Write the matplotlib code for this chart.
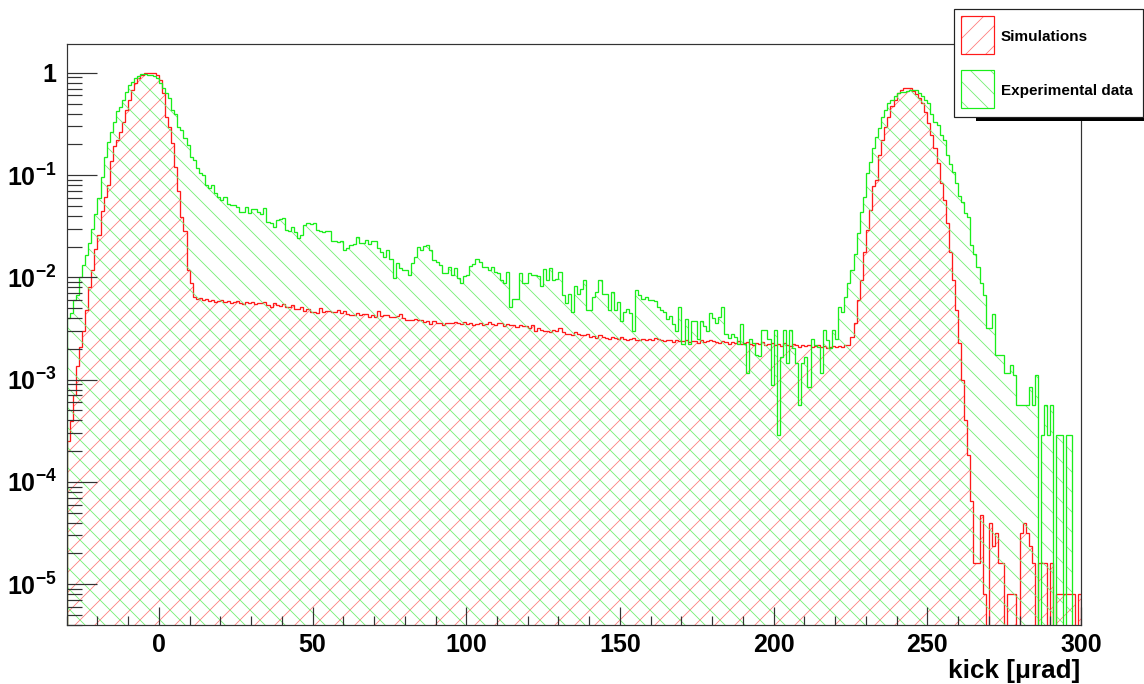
import numpy as np
import matplotlib
matplotlib.use("Agg")
import matplotlib.pyplot as plt
from matplotlib.patches import Rectangle
from matplotlib.ticker import FixedLocator, NullFormatter

DPI = 120         # chosen so the hatch spacing matches the ROOT pattern
W, H = 1144, 684


def pt(px):
    """pixels -> points at the chosen dpi"""
    return px * 72.0 / DPI


plt.rcParams['font.family'] = ['Liberation Sans', 'DejaVu Sans']
plt.rcParams['font.weight'] = 'bold'
plt.rcParams['mathtext.fontset'] = 'custom'
plt.rcParams['mathtext.rm'] = 'Liberation Sans:bold'
plt.rcParams['mathtext.it'] = 'Liberation Sans:bold'
plt.rcParams['mathtext.bf'] = 'Liberation Sans:bold'
plt.rcParams['hatch.linewidth'] = pt(0.8)

# histogram binning: 1 urad bins from -30 to 300
x_lo, x_hi = -30, 300
edges = np.arange(x_lo, x_hi + 1)

# bin contents, as log10 values (None = empty bin)
sim_log10 = [
    # -30
    -3.60, -3.40, -3.15, -2.87, -2.68, -2.52, -2.32, -2.09, -1.93, -1.72,
    # -20
    -1.59, -1.35, -1.21, -1.10, -0.86, -0.72, -0.66, -0.58, -0.48, -0.36,
    # -10
    -0.27, -0.17, -0.10, -0.055, -0.02, -0.006, 0.0, 0.0, -0.005, -0.02,
    # 0
    -0.07, -0.20, -0.43, -0.53, -0.69, -0.92, -1.16, -1.41, -1.55, -1.93,
    # 10
    -2.06, -2.19, -2.21, -2.20, -2.22, -2.21, -2.23, -2.22, -2.24, -2.23,
    # 20
    -2.22, -2.24, -2.23, -2.25, -2.24, -2.23, -2.25, -2.26, -2.24, -2.25,
    # 30
    -2.24, -2.26, -2.25, -2.25, -2.24, -2.27, -2.29, -2.25, -2.27, -2.28,
    # 40
    -2.26, -2.29, -2.29, -2.27, -2.31, -2.31, -2.29, -2.33, -2.31, -2.34,
    # 50
    -2.34, -2.35, -2.30, -2.34, -2.33, -2.33, -2.34, -2.34, -2.32, -2.35,
    # 60
    -2.33, -2.36, -2.37, -2.37, -2.35, -2.37, -2.36, -2.36, -2.39, -2.37,
    # 70
    -2.39, -2.33, -2.38, -2.37, -2.37, -2.39, -2.39, -2.38, -2.36, -2.40,
    # 80
    -2.42, -2.42, -2.42, -2.41, -2.42, -2.42, -2.44, -2.43, -2.46, -2.43,
    # 90
    -2.45, -2.45, -2.47, -2.45, -2.45, -2.45, -2.44, -2.45, -2.46, -2.44,
    # 100
    -2.46, -2.45, -2.47, -2.46, -2.45, -2.47, -2.46, -2.44, -2.46, -2.47,
    # 110
    -2.45, -2.45, -2.48, -2.46, -2.47, -2.47, -2.49, -2.47, -2.48, -2.48,
    # 120
    -2.50, -2.47, -2.52, -2.50, -2.51, -2.52, -2.52, -2.53, -2.51, -2.52,
    # 130
    -2.50, -2.53, -2.55, -2.55, -2.56, -2.53, -2.55, -2.56, -2.56, -2.55,
    # 140
    -2.58, -2.57, -2.59, -2.56, -2.58, -2.59, -2.60, -2.58, -2.59, -2.60,
    # 150
    -2.58, -2.60, -2.61, -2.60, -2.59, -2.61, -2.61, -2.60, -2.61, -2.60,
    # 160
    -2.61, -2.59, -2.60, -2.61, -2.62, -2.61, -2.61, -2.63, -2.61, -2.62,
    # 170
    -2.62, -2.61, -2.63, -2.62, -2.62, -2.64, -2.61, -2.63, -2.62, -2.61,
    # 180
    -2.62, -2.63, -2.64, -2.62, -2.63, -2.65, -2.63, -2.64, -2.62, -2.65,
    # 190
    -2.64, -2.63, -2.65, -2.66, -2.64, -2.65, -2.63, -2.66, -2.65, -2.64,
    # 200
    -2.66, -2.65, -2.67, -2.64, -2.66, -2.67, -2.65, -2.66, -2.68, -2.66,
    # 210
    -2.67, -2.66, -2.68, -2.67, -2.66, -2.68, -2.67, -2.69, -2.68, -2.67,
    # 220
    -2.68, -2.67, -2.68, -2.66, -2.66, -2.58, -2.45, -2.22, -2.03, -1.75,
    # 230
    -1.54, -1.34, -1.11, -1.05, -0.80, -0.66, -0.53, -0.43, -0.32, -0.27,
    # 240
    -0.20, -0.17, -0.15, -0.15, -0.15, -0.18, -0.21, -0.25, -0.30, -0.38,
    # 250
    -0.49, -0.61, -0.74, -0.88, -1.08, -1.24, -1.47, -1.75, -2.03, -2.32,
    # 260
    -2.64, -3.00, -3.39, -3.74, -4.19, -4.79, -4.79, -4.32, -5.10, None,
    # 270
    -4.40, -4.63, -4.50, -4.79, -4.79, None, -5.10, -5.10, -5.10, None,
    # 280
    -4.50, -4.40, -4.50, -4.63, -4.79, None, -4.79, -4.79, -4.79, None,
    # 290
    -4.79, None, -5.10, -5.10, -5.10, -5.10, -5.10, -5.10, None, -5.10,
]

data_log10 = [
    # -30
    -2.40, -2.35, -2.22, -2.17, -2.00, -1.88, -1.78, -1.66, -1.53, -1.38,
    # -20
    -1.22, -1.02, -0.82, -0.68, -0.58, -0.48, -0.37, -0.33, -0.27, -0.19,
    # -10
    -0.12, -0.09, -0.05, -0.03, -0.01, -0.01, -0.02, -0.02, -0.03, -0.055,
    # 0
    -0.10, -0.15, -0.20, -0.25, -0.36, -0.40, -0.53, -0.56, -0.64, -0.71,
    # 10
    -0.82, -0.85, -0.93, -0.98, -1.00, -1.10, -1.13, -1.10, -1.18, -1.21,
    # 20
    -1.24, -1.21, -1.28, -1.29, -1.29, -1.31, -1.36, -1.36, -1.31, -1.37,
    # 30
    -1.33, -1.33, -1.36, -1.38, -1.32, -1.46, -1.47, -1.51, -1.44, -1.43,
    # 40
    -1.42, -1.54, -1.55, -1.51, -1.56, -1.62, -1.59, -1.49, -1.47, -1.48,
    # 50
    -1.47, -1.54, -1.55, -1.56, -1.55, -1.55, -1.64, -1.64, -1.65, -1.64,
    # 60
    -1.73, -1.71, -1.68, -1.67, -1.61, -1.66, -1.66, -1.63, -1.67, -1.64,
    # 70
    -1.64, -1.71, -1.75, -1.80, -1.73, -1.82, -2.01, -1.86, -1.91, -1.93,
    # 80
    -1.93, -1.98, -1.86, -1.80, -1.70, -1.73, -1.69, -1.68, -1.73, -1.83,
    # 90
    -1.85, -1.88, -1.96, -1.96, -1.90, -1.98, -1.91, -2.01, -2.06, -1.99,
    # 100
    -1.98, -1.89, -1.87, -1.82, -1.85, -1.90, -1.90, -1.93, -1.90, -1.95,
    # 110
    -1.96, -2.03, -2.06, -1.95, -2.29, -2.21, -2.21, -1.96, -2.06, -2.06,
    # 120
    -1.96, -1.98, -1.98, -1.99, -2.08, -1.92, -2.03, -1.91, -2.03, -2.02,
    # 130
    -1.95, -2.17, -2.25, -2.16, -2.34, -2.08, -2.16, -2.11, -2.03, -2.32,
    # 140
    -2.32, -2.19, -2.14, -2.03, -2.16, -2.16, -2.32, -2.14, -2.32, -2.24,
    # 150
    -2.43, -2.34, -2.31, -2.35, -2.52, -2.12, -2.17, -2.21, -2.19, -2.22,
    # 160
    -2.22, -2.23, -2.29, -2.32, -2.34, -2.41, -2.38, -2.46, -2.52, -2.29,
    # 170
    -2.65, -2.41, -2.65, -2.43, -2.43, -2.60, -2.43, -2.48, -2.52, -2.35,
    # 180
    -2.40, -2.45, -2.39, -2.29, -2.55, -2.59, -2.55, -2.58, -2.65, -2.46,
    # 190
    -2.65, -2.94, -2.60, -2.64, -2.76, -2.77, -2.51, -2.51, -2.60, -3.05,
    # 200
    -2.51, -3.54, -2.78, -2.51, -2.84, -2.51, -2.69, -2.84, -3.25, -2.84,
    # 210
    -2.78, -3.07, -2.60, -2.66, -2.68, -2.94, -2.51, -2.61, -2.69, -2.51,
    # 220
    -2.60, -2.29, -2.34, -2.19, -2.06, -1.93, -1.77, -1.57, -1.36, -1.21,
    # 230
    -0.98, -0.87, -0.74, -0.63, -0.54, -0.43, -0.36, -0.30, -0.27, -0.23,
    # 240
    -0.20, -0.19, -0.19, -0.18, -0.17, -0.17, -0.17, -0.20, -0.23, -0.27,
    # 250
    -0.30, -0.40, -0.48, -0.51, -0.61, -0.66, -0.80, -0.89, -0.97, -1.08,
    # 260
    -1.20, -1.26, -1.37, -1.41, -1.68, -1.77, -1.90, -2.06, -2.17, -2.50,
    # 270
    -2.50, -2.36, -2.76, -2.76, -2.76, -2.94, -2.94, -2.86, -2.95, -3.25,
    # 280
    -3.25, -3.25, -3.25, -3.07, -3.25, -2.95, None, -3.54, -3.25, -3.54,
    # 290
    -3.25, None, -3.54, -3.54, None, -3.54, -3.54, None, None, None,
]

labels = ["Simulations", "Experimental data"]
colors = ["#ff1a1a", "#1aee1a"]
hatch_colors = ["#ff7a7a", "#6ef06e"]
hatches = ["//", "\\\\"]

FLOOR = 1e-7


def fx(px):
    return px / W


def fy(py):
    return 1 - py / H


def to_counts(vals):
    return np.array([0.0 if v is None else 10.0 ** v for v in vals])


fig = plt.figure(figsize=(W / DPI, H / DPI), dpi=DPI)
ax = fig.add_axes([fx(66.7), fy(625.3), fx(1081) - fx(66.7), fy(44.3) - fy(625.3)])

for vals, col, hcol, hat in zip([sim_log10, data_log10], colors, hatch_colors, hatches):
    y = to_counts(vals)
    y = np.where(y > 0, y, FLOOR)
    ax.stairs(y, edges, baseline=FLOOR, fill=True, facecolor="none",
              edgecolor=hcol, hatch=hat, linewidth=0)
    ax.stairs(y, edges, baseline=FLOOR, fill=False, color=col, linewidth=pt(1.3))

ax.set_yscale("log")
ax.set_xlim(x_lo, x_hi)
ax.set_ylim(3.96e-6, 1.9)

for sp in ax.spines.values():
    sp.set_color("#333333")
    sp.set_linewidth(pt(1.2))

# x axis ticks
ax.xaxis.set_major_locator(FixedLocator([0, 50, 100, 150, 200, 250, 300]))
ax.xaxis.set_minor_locator(FixedLocator(np.arange(-30, 301, 10)))
ax.set_xticklabels(["0", "50", "100", "150", "200", "250", "300"])
ax.tick_params(axis="x", which="major", direction="in", length=pt(18), width=pt(1.2),
               color="#333333", labelsize=pt(25), pad=pt(8), top=False)
ax.tick_params(axis="x", which="minor", direction="in", length=pt(9), width=pt(1.2),
               color="#333333", top=False)

# y axis ticks
yt = [1e-5, 1e-4, 1e-3, 1e-2, 1e-1, 1]
ax.yaxis.set_major_locator(FixedLocator(yt))
ax.set_yticklabels([r"$10^{-5}$", r"$10^{-4}$", r"$10^{-3}$",
                    r"$10^{-2}$", r"$10^{-1}$", "1"])
minors = [m * 10.0 ** e for e in range(-6, 1) for m in range(2, 10)]
ax.yaxis.set_minor_locator(FixedLocator(minors))
ax.yaxis.set_minor_formatter(NullFormatter())
ax.tick_params(axis="y", which="major", direction="in", length=pt(30), width=pt(1.2),
               color="#333333", labelsize=pt(25), pad=pt(10), right=False)
ax.tick_params(axis="y", which="minor", direction="in", length=pt(15), width=pt(1.2),
               color="#333333", right=False)

fig.text(fx(1080), fy(683), "kick [\u03bcrad]", ha="right", va="bottom",
         fontsize=pt(26), fontweight="bold")

# legend box (drawn by hand in figure pixels)
fig.add_artist(Rectangle((fx(976), fy(121)), fx(1150) - fx(976), fy(8) - fy(121) - 0.001,
                         transform=fig.transFigure, facecolor="black",
                         edgecolor="none", zorder=5))
fig.add_artist(Rectangle((fx(953.5), fy(116.5)), fx(1143) - fx(953.5),
                         fy(8.5) - fy(116.5), transform=fig.transFigure,
                         facecolor="white", edgecolor="#222222",
                         linewidth=pt(1.2), zorder=6))
for i, (lab, col, hcol, hat) in enumerate(zip(labels, colors, hatch_colors, hatches)):
    top = 16 + i * 54
    box = dict(transform=fig.transFigure, zorder=7)
    fig.add_artist(Rectangle((fx(960.5), fy(top + 38)), fx(993.5) - fx(960.5),
                             fy(top) - fy(top + 38), facecolor="white",
                             edgecolor=hcol, hatch=hat, linewidth=0, **box))
    fig.add_artist(Rectangle((fx(960.5), fy(top + 38)), fx(993.5) - fx(960.5),
                             fy(top) - fy(top + 38), facecolor="none",
                             edgecolor=col, linewidth=pt(1.2), **box))
    fig.text(fx(1001), fy(top + 21), lab, ha="left", va="center",
             fontsize=pt(15.3), fontweight="bold", zorder=8)

fig.savefig("out.png", dpi=DPI)
